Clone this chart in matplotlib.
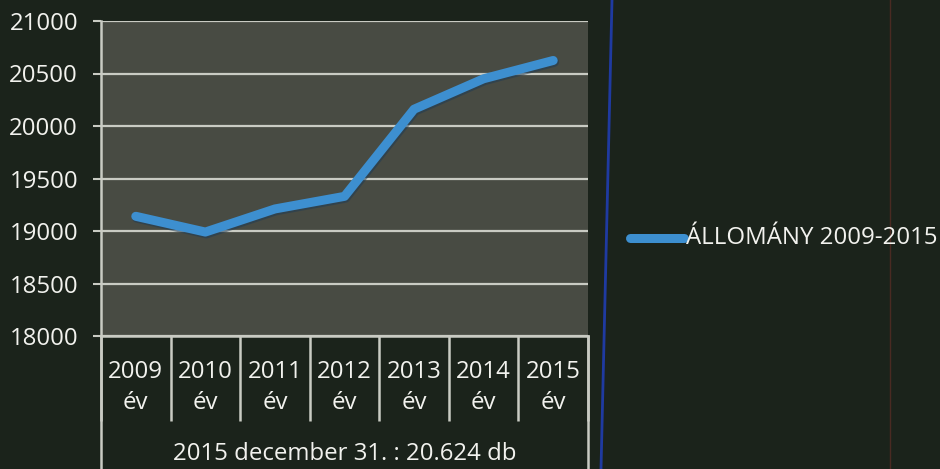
import matplotlib
matplotlib.use("Agg")
import matplotlib.pyplot as plt
from matplotlib.lines import Line2D
import matplotlib.transforms as mtransforms
import numpy as np

years = ["2009", "2010", "2011", "2012", "2013", "2014", "2015"]
values = [19140, 18990, 19210, 19330, 20160, 20450, 20624]
series_name = "ÁLLOMÁNY 2009-2015"
axis_title = "2015 december 31. : 20.624 db"
yticks = [18000, 18500, 19000, 19500, 20000, 20500, 21000]

plt.rcParams['font.family'] = ['Open Sans', 'DejaVu Sans']
BG = "#1b231b"
PLOT = "#484b43"
GRID = "#c9cbc3"
TXT = "#f2f2ee"
LINE = "#3d8fd0"
FS = 17.3

fig = plt.figure(figsize=(9.4, 4.69), dpi=100, facecolor=BG)
W, H = 940, 469
ax = fig.add_axes([101 / W, (H - 336) / H, 487 / W, 315 / H])
ax.set_facecolor(PLOT)

x = np.arange(len(years))
shadow = ax.transData + mtransforms.ScaledTranslation(1 / 100, -1.5 / 100, fig.dpi_scale_trans)
ax.plot(x, values, color="#1c3a55", lw=7, solid_capstyle="round", alpha=0.5, zorder=3, transform=shadow)
ax.plot(x, values, color=LINE, lw=6.5, solid_capstyle="round", solid_joinstyle="round", zorder=4)

ax.set_xlim(-0.5, len(years) - 0.5)
ax.set_ylim(18000, 21000)
ax.set_yticks(yticks)
ax.set_yticklabels([str(v) for v in yticks], color=TXT, fontsize=FS)
ax.tick_params(axis="y", length=5.5, width=1.5, color=GRID, pad=11)
ax.grid(axis="y", color=GRID, lw=1.6)
ax.set_axisbelow(True)

ax.set_xticks(x)
ax.set_xticklabels([f"{y}\név" for y in years], color=TXT, fontsize=FS, linespacing=1.42)
ax.tick_params(axis="x", which="major", length=0, pad=17)
ax.set_xticks(np.arange(-0.5, len(years)), minor=True)
ax.tick_params(axis="x", which="minor", length=61, width=1.8, color=GRID, direction="out")

for s in ["top", "right"]:
    ax.spines[s].set_visible(False)
ax.spines["left"].set_color(GRID)
ax.spines["left"].set_linewidth(1.8)
ax.spines["bottom"].set_color(GRID)
ax.spines["bottom"].set_linewidth(1.8)

ax.set_xlabel(axis_title, color=TXT, fontsize=FS, labelpad=12)

# vertical frame lines below the plot
fig.add_artist(Line2D([101 / W, 101 / W], [0, (H - 336) / H], color=GRID, lw=1.8))
fig.add_artist(Line2D([588 / W, 588 / W], [0, (H - 336) / H], color=GRID, lw=1.8))
# blue divider and faint red line
fig.add_artist(Line2D([612 / W, 601 / W], [1, 0], color="#1f3aa0", lw=2))
fig.add_artist(Line2D([890 / W, 890 / W], [1, 0], color="#4a2a22", lw=1))

# legend
ly = (H - 238) / H
fig.add_artist(Line2D([630 / W, 684 / W], [ly, ly], color=LINE, lw=6.5, solid_capstyle="round"))
fig.text(686 / W, ly, series_name, color=TXT, fontsize=FS, va="center", ha="left")

fig.savefig("out.png", dpi=100, facecolor=BG)
